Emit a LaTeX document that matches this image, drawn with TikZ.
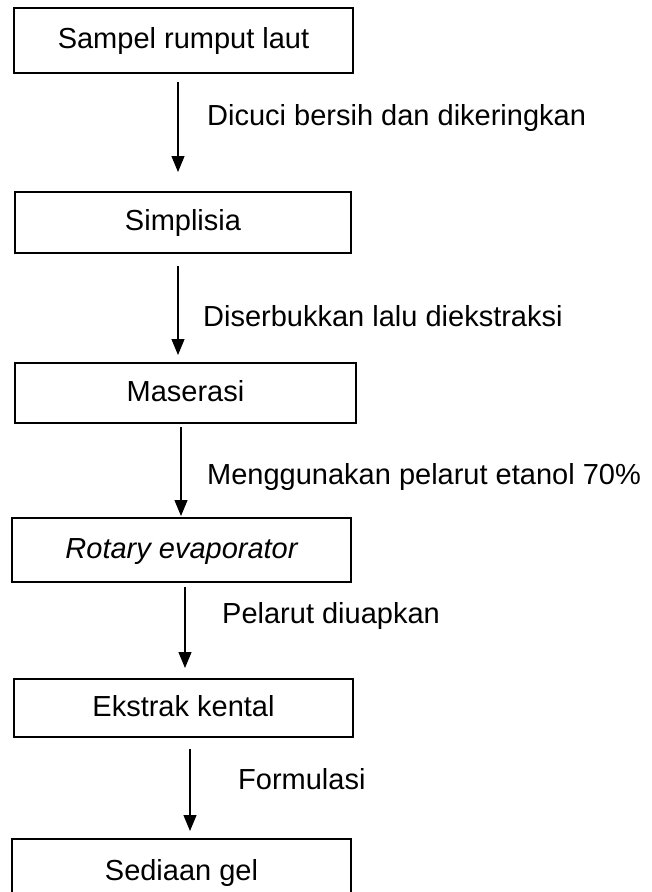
\documentclass[tikz,border=0pt]{standalone}
\usepackage{fontspec}
\setmainfont{Liberation Sans}
\usetikzlibrary{arrows.meta}
\begin{document}
\begin{tikzpicture}[x=1pt,y=-1pt,
  stepbox/.style={draw=black, line width=1.8pt, inner sep=0pt, minimum width=339pt,
    text height=21pt, text depth=5pt, font=\fontsize{29}{34}\selectfont},
  flow/.style={line width=1.2pt, -{Triangle[length=16pt,width=13pt]}},
  lbl/.style={anchor=base west, inner sep=0pt, font=\fontsize{29}{34}\selectfont}]
\useasboundingbox (0,0) rectangle (651,892);
% boxes
\node[stepbox, minimum height=65pt] (b1) at (183.5,40.5) {Sampel rumput laut};
\node[stepbox, minimum height=61pt, minimum width=336pt] (b2) at (183,222.5) {Simplisia};
\node[stepbox, minimum height=60pt, minimum width=341pt] (b3) at (185.5,393) {Maserasi};
\node[stepbox, minimum height=64pt] (b4) at (181.5,550) {\itshape Rotary evaporator};
\node[stepbox, minimum height=58pt] (b5) at (183.5,708) {Ekstrak kental};
\node[stepbox, minimum height=66pt] (b6) at (181.5,872) {Sediaan gel};
% arrow end points
\coordinate (s1) at (178,82);  \coordinate (e1) at (178,172);
\coordinate (s2) at (178,266); \coordinate (e2) at (178,355);
\coordinate (s3) at (181,427); \coordinate (e3) at (181,516);
\coordinate (s4) at (185,587); \coordinate (e4) at (185,668);
\coordinate (s5) at (190,749); \coordinate (e5) at (190,831);
\draw[flow] (s1) -- (e1);
\draw[flow] (s2) -- (e2);
\draw[flow] (s3) -- (e3);
\draw[flow] (s4) -- (e4);
\draw[flow] (s5) -- (e5);
% labels
\node[lbl] (l1) at (207,125) {Dicuci bersih dan dikeringkan};
\node[lbl] (l2) at (203,326) {Diserbukkan lalu diekstraksi};
\node[lbl] (l3) at (207,484) {Menggunakan pelarut etanol 70\%};
\node[lbl] (l4) at (222,623) {Pelarut diuapkan};
\node[lbl] (l5) at (238,789) {Formulasi};
\end{tikzpicture}
\end{document}
